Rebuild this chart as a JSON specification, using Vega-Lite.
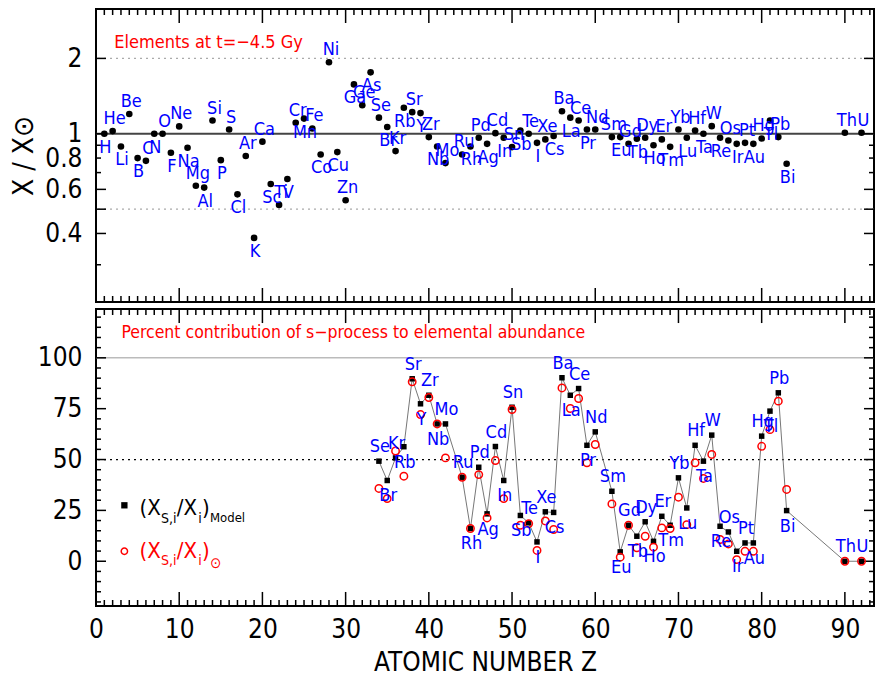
{
 "$schema": "https://vega.github.io/schema/vega-lite/v6.json",
 "padding": {"left": 9, "top": 7, "right": 5, "bottom": 3},
 "spacing": 3,
 "config": {
  "view": {"stroke": "black", "strokeWidth": 2},
  "axis": {"domain": false, "ticks": false, "tickSize": 0, "grid": false,
   "labelFont": "DejaVu Sans Condensed, DejaVu Sans, sans-serif", "labelColor": "black",
   "titleFont": "DejaVu Sans Condensed, DejaVu Sans, sans-serif", "titleFontWeight": "normal", "titleColor": "black",
   "labelFlush": false, "labelOverlap": false},
  "text": {"font": "DejaVu Sans Condensed, DejaVu Sans, sans-serif"}
 },
 "datasets": {
  "xt": [{"t":0},{"t":1},{"t":2},{"t":3},{"t":4},{"t":5},{"t":6},{"t":7},{"t":8},{"t":9},{"t":10},{"t":11},{"t":12},{"t":13},{"t":14},{"t":15},{"t":16},{"t":17},{"t":18},{"t":19},{"t":20},{"t":21},{"t":22},{"t":23},{"t":24},{"t":25},{"t":26},{"t":27},{"t":28},{"t":29},{"t":30},{"t":31},{"t":32},{"t":33},{"t":34},{"t":35},{"t":36},{"t":37},{"t":38},{"t":39},{"t":40},{"t":41},{"t":42},{"t":43},{"t":44},{"t":45},{"t":46},{"t":47},{"t":48},{"t":49},{"t":50},{"t":51},{"t":52},{"t":53},{"t":54},{"t":55},{"t":56},{"t":57},{"t":58},{"t":59},{"t":60},{"t":61},{"t":62},{"t":63},{"t":64},{"t":65},{"t":66},{"t":67},{"t":68},{"t":69},{"t":70},{"t":71},{"t":72},{"t":73},{"t":74},{"t":75},{"t":76},{"t":77},{"t":78},{"t":79},{"t":80},{"t":81},{"t":82},{"t":83},{"t":84},{"t":85},{"t":86},{"t":87},{"t":88},{"t":89},{"t":90},{"t":91},{"t":92},{"t":93}],
  "ytt": [{"t":0.3},{"t":0.4},{"t":0.5},{"t":0.6},{"t":0.7},{"t":0.8},{"t":0.9},{"t":1},{"t":2}],
  "ytb": [{"t":-20},{"t":-15},{"t":-10},{"t":-5},{"t":0},{"t":5},{"t":10},{"t":15},{"t":20},{"t":25},{"t":30},{"t":35},{"t":40},{"t":45},{"t":50},{"t":55},{"t":60},{"t":65},{"t":70},{"t":75},{"t":80},{"t":85},{"t":90},{"t":95},{"t":100},{"t":105},{"t":110},{"t":115},{"t":120}],
  "top": [
   {"Z":1,"el":"H","r":1.0},{"Z":2,"el":"He","r":1.025},{"Z":3,"el":"Li","r":0.89},{"Z":4,"el":"Be","r":1.2},
   {"Z":5,"el":"B","r":0.8},{"Z":6,"el":"C","r":0.78},{"Z":7,"el":"N","r":1.0},{"Z":8,"el":"O","r":1.0},
   {"Z":9,"el":"F","r":0.84},{"Z":10,"el":"Ne","r":1.07},{"Z":11,"el":"Na","r":0.88},{"Z":12,"el":"Mg","r":0.62},
   {"Z":13,"el":"Al","r":0.61},{"Z":14,"el":"Si","r":1.13},{"Z":15,"el":"P","r":0.785},{"Z":16,"el":"S","r":1.04},
   {"Z":17,"el":"Cl","r":0.573},{"Z":18,"el":"Ar","r":0.815},{"Z":19,"el":"K","r":0.384},{"Z":20,"el":"Ca","r":0.93},
   {"Z":21,"el":"Sc","r":0.63},{"Z":22,"el":"Ti","r":0.52},{"Z":23,"el":"V","r":0.66},{"Z":24,"el":"Cr","r":1.107},
   {"Z":25,"el":"Mn","r":1.15},{"Z":26,"el":"Fe","r":1.05},{"Z":27,"el":"Co","r":0.827},{"Z":28,"el":"Ni","r":1.93},
   {"Z":29,"el":"Cu","r":0.845},{"Z":30,"el":"Zn","r":0.543},{"Z":31,"el":"Ga","r":1.575},{"Z":32,"el":"Ge","r":1.3},
   {"Z":33,"el":"As","r":1.76},{"Z":34,"el":"Se","r":1.16},{"Z":35,"el":"Br","r":1.064},{"Z":36,"el":"Kr","r":0.853},
   {"Z":37,"el":"Rb","r":1.27},{"Z":38,"el":"Sr","r":1.22},{"Z":39,"el":"Y","r":1.21},{"Z":40,"el":"Zr","r":0.97},
   {"Z":41,"el":"Nb","r":0.89},{"Z":42,"el":"Mo","r":0.764},{"Z":44,"el":"Ru","r":0.827},{"Z":45,"el":"Rh","r":0.89},
   {"Z":46,"el":"Pd","r":0.964},{"Z":47,"el":"Ag","r":0.912},{"Z":48,"el":"Cd","r":1.006},{"Z":49,"el":"In","r":0.964},
   {"Z":50,"el":"Sn","r":0.885},{"Z":51,"el":"Sb","r":1.03},{"Z":52,"el":"Te","r":1.0},{"Z":53,"el":"I","r":0.92},
   {"Z":54,"el":"Xe","r":0.95},{"Z":55,"el":"Cs","r":0.98},{"Z":56,"el":"Ba","r":1.23},{"Z":57,"el":"La","r":1.16},
   {"Z":58,"el":"Ce","r":1.13},{"Z":59,"el":"Pr","r":1.04},{"Z":60,"el":"Nd","r":1.04},{"Z":62,"el":"Sm","r":0.97},
   {"Z":63,"el":"Eu","r":0.97},{"Z":64,"el":"Gd","r":0.912},{"Z":65,"el":"Tb","r":0.955},{"Z":66,"el":"Dy","r":0.964},
   {"Z":67,"el":"Ho","r":0.9},{"Z":68,"el":"Er","r":0.95},{"Z":69,"el":"Tm","r":0.887},{"Z":70,"el":"Yb","r":1.04},
   {"Z":71,"el":"Lu","r":0.964},{"Z":72,"el":"Hf","r":1.03},{"Z":73,"el":"Ta","r":1.0},{"Z":74,"el":"W","r":1.073},
   {"Z":75,"el":"Re","r":0.964},{"Z":76,"el":"Os","r":0.94},{"Z":77,"el":"Ir","r":0.912},{"Z":78,"el":"Pt","r":0.92},
   {"Z":79,"el":"Au","r":0.912},{"Z":80,"el":"Hg","r":0.958},{"Z":81,"el":"Tl","r":1.13},{"Z":82,"el":"Pb","r":0.97},
   {"Z":83,"el":"Bi","r":0.759},{"Z":90,"el":"Th","r":1.01},{"Z":92,"el":"U","r":1.01}
  ],
  "bot": [
   {"Z":34,"el":"Se","model":49.2,"solar":35.8},{"Z":35,"el":"Br","model":39.7,"solar":30.8},
   {"Z":36,"el":"Kr","model":50.8,"solar":54.2},{"Z":37,"el":"Rb","model":56.3,"solar":41.8},
   {"Z":38,"el":"Sr","model":89.7,"solar":88.2},{"Z":39,"el":"Y","model":77.4,"solar":72.1},
   {"Z":40,"el":"Zr","model":81.6,"solar":80.5},{"Z":41,"el":"Nb","model":67.5,"solar":67.5},
   {"Z":42,"el":"Mo","model":67.5,"solar":50.8},{"Z":44,"el":"Ru","model":41.3,"solar":41.3},
   {"Z":45,"el":"Rh","model":16.1,"solar":16.1},{"Z":46,"el":"Pd","model":46.2,"solar":42.6},
   {"Z":47,"el":"Ag","model":23.3,"solar":21.3},{"Z":48,"el":"Cd","model":56.4,"solar":49.5},
   {"Z":49,"el":"In","model":39.7,"solar":30.8},{"Z":50,"el":"Sn","model":75.7,"solar":74.6},
   {"Z":51,"el":"Sb","model":22.5,"solar":17.7},{"Z":52,"el":"Te","model":18.9,"solar":18.5},
   {"Z":53,"el":"I","model":9.5,"solar":5.3},{"Z":54,"el":"Xe","model":24.3,"solar":19.8},
   {"Z":55,"el":"Cs","model":24.0,"solar":15.6},{"Z":56,"el":"Ba","model":90.2,"solar":85.2},
   {"Z":57,"el":"La","model":81.6,"solar":75.1},{"Z":58,"el":"Ce","model":84.9,"solar":80.0},
   {"Z":59,"el":"Pr","model":57.0,"solar":48.4},{"Z":60,"el":"Nd","model":63.6,"solar":57.4},
   {"Z":62,"el":"Sm","model":34.4,"solar":28.2},{"Z":63,"el":"Eu","model":4.6,"solar":2.0},
   {"Z":64,"el":"Gd","model":17.7,"solar":17.7},{"Z":65,"el":"Tb","model":12.3,"solar":6.6},
   {"Z":66,"el":"Dy","model":19.4,"solar":12.3},{"Z":67,"el":"Ho","model":9.8,"solar":6.9},
   {"Z":68,"el":"Er","model":22.1,"solar":16.4},{"Z":69,"el":"Tm","model":17.7,"solar":16.1},
   {"Z":70,"el":"Yb","model":41.0,"solar":31.5},{"Z":71,"el":"Lu","model":26.2,"solar":18.0},
   {"Z":72,"el":"Hf","model":57.0,"solar":48.4},{"Z":73,"el":"Ta","model":49.2,"solar":40.7},
   {"Z":74,"el":"W","model":62.0,"solar":52.5},{"Z":75,"el":"Re","model":17.2,"solar":10.7},
   {"Z":76,"el":"Os","model":14.4,"solar":8.5},{"Z":77,"el":"Ir","model":4.9,"solar":0.8},
   {"Z":78,"el":"Pt","model":9.0,"solar":4.9},{"Z":79,"el":"Au","model":9.0,"solar":4.9},
   {"Z":80,"el":"Hg","model":61.5,"solar":56.5},{"Z":81,"el":"Tl","model":73.8,"solar":64.7},
   {"Z":82,"el":"Pb","model":82.8,"solar":78.7},{"Z":83,"el":"Bi","model":24.9,"solar":35.3},
   {"Z":90,"el":"Th","model":0,"solar":0},{"Z":92,"el":"U","model":0,"solar":0}
  ]
 },
 "vconcat": [
  {
   "width": 778, "height": 293,
   "resolve": {"axis": {"x": "independent", "y": "independent"}},
   "layer": [
    {"data": {"values": [{"v": 2}, {"v": 0.5}]},
     "mark": {"type": "rule", "stroke": "#aaaaaa", "strokeWidth": 1.2, "strokeDash": [2, 4]},
     "encoding": {"y": {"field": "v", "type": "quantitative", "scale": {"type": "log", "domain": [0.213, 3.15], "nice": false}, "axis": null}}},
    {"data": {"values": [{}]},
     "mark": {"type": "rule", "stroke": "#444444", "strokeWidth": 2},
     "encoding": {"y": {"datum": 1, "type": "quantitative", "scale": {"type": "log", "domain": [0.213, 3.15], "nice": false}, "axis": null}}},
    {"data": {"name": "xt"}, "transform": [{"filter": "datum.t % 10 === 0"}],
     "mark": {"type": "rule", "stroke": "black", "strokeWidth": 1.5},
     "encoding": {
      "x": {"field": "t", "type": "quantitative", "scale": {"domain": [0, 93.5], "nice": false, "zero": false}, "axis": null},
      "y": {"datum": 0.213, "type": "quantitative", "scale": {"type": "log", "domain": [0.213, 3.15], "nice": false}, "axis": null},
      "y2": {"datum": 0.2423}}},
    {"data": {"name": "xt"}, "transform": [{"filter": "datum.t % 10 !== 0"}],
     "mark": {"type": "rule", "stroke": "black", "strokeWidth": 1.5},
     "encoding": {
      "x": {"field": "t", "type": "quantitative", "scale": {"domain": [0, 93.5], "nice": false, "zero": false}, "axis": null},
      "y": {"datum": 0.213, "type": "quantitative", "scale": {"type": "log", "domain": [0.213, 3.15], "nice": false}, "axis": null},
      "y2": {"datum": 0.2251}}},
    {"data": {"name": "xt"}, "transform": [{"filter": "datum.t % 10 === 0"}],
     "mark": {"type": "rule", "stroke": "black", "strokeWidth": 1.5},
     "encoding": {
      "x": {"field": "t", "type": "quantitative", "scale": {"domain": [0, 93.5], "nice": false, "zero": false}, "axis": null},
      "y": {"datum": 3.15, "type": "quantitative", "scale": {"type": "log", "domain": [0.213, 3.15], "nice": false}, "axis": null},
      "y2": {"datum": 2.7695}}},
    {"data": {"name": "xt"}, "transform": [{"filter": "datum.t % 10 !== 0"}],
     "mark": {"type": "rule", "stroke": "black", "strokeWidth": 1.5},
     "encoding": {
      "x": {"field": "t", "type": "quantitative", "scale": {"domain": [0, 93.5], "nice": false, "zero": false}, "axis": null},
      "y": {"datum": 3.15, "type": "quantitative", "scale": {"type": "log", "domain": [0.213, 3.15], "nice": false}, "axis": null},
      "y2": {"datum": 2.981}}},
    {"data": {"name": "ytt"}, "transform": [{"filter": "indexof([2,1,0.6,0.5,0.4], datum.t) >= 0"}],
     "mark": {"type": "rule", "stroke": "black", "strokeWidth": 1.5},
     "encoding": {
      "y": {"field": "t", "type": "quantitative", "scale": {"type": "log", "domain": [0.213, 3.15], "nice": false}, "axis": null},
      "x": {"datum": 0, "type": "quantitative", "scale": {"domain": [0, 93.5], "nice": false, "zero": false}, "axis": null},
      "x2": {"datum": 1.2}}},
    {"data": {"name": "ytt"}, "transform": [{"filter": "indexof([2,1,0.6,0.5,0.4], datum.t) < 0"}],
     "mark": {"type": "rule", "stroke": "black", "strokeWidth": 1.5},
     "encoding": {
      "y": {"field": "t", "type": "quantitative", "scale": {"type": "log", "domain": [0.213, 3.15], "nice": false}, "axis": null},
      "x": {"datum": 0, "type": "quantitative", "scale": {"domain": [0, 93.5], "nice": false, "zero": false}, "axis": null},
      "x2": {"datum": 0.6}}},
    {"data": {"name": "ytt"}, "transform": [{"filter": "indexof([2,1,0.6,0.5,0.4], datum.t) >= 0"}],
     "mark": {"type": "rule", "stroke": "black", "strokeWidth": 1.5},
     "encoding": {
      "y": {"field": "t", "type": "quantitative", "scale": {"type": "log", "domain": [0.213, 3.15], "nice": false}, "axis": null},
      "x": {"datum": 93.5, "type": "quantitative", "scale": {"domain": [0, 93.5], "nice": false, "zero": false}, "axis": null},
      "x2": {"datum": 92.3}}},
    {"data": {"name": "ytt"}, "transform": [{"filter": "indexof([2,1,0.6,0.5,0.4], datum.t) < 0"}],
     "mark": {"type": "rule", "stroke": "black", "strokeWidth": 1.5},
     "encoding": {
      "y": {"field": "t", "type": "quantitative", "scale": {"type": "log", "domain": [0.213, 3.15], "nice": false}, "axis": null},
      "x": {"datum": 93.5, "type": "quantitative", "scale": {"domain": [0, 93.5], "nice": false, "zero": false}, "axis": null},
      "x2": {"datum": 92.9}}},
    {"data": {"name": "top"},
     "mark": {"type": "circle", "color": "black", "opacity": 1, "size": 44},
     "encoding": {
      "x": {"field": "Z", "type": "quantitative", "scale": {"domain": [0, 93.5], "nice": false, "zero": false}, "axis": null},
      "y": {"field": "r", "type": "quantitative", "scale": {"type": "log", "domain": [0.213, 3.15], "nice": false},
       "axis": {"orient": "left", "values": [0.3,0.4,0.5,0.6,0.7,0.8,0.9,1,2],
        "labelExpr": "indexof([2,1,0.8,0.6,0.4], datum.value) >= 0 ? toString(datum.value) : ''",
        "labelFontSize": 26, "labelPadding": 14,
        "title": "X / X⊙", "titleFontSize": 28, "titlePadding": 6}}
     }},
    {"data": {"name": "top"},
     "transform": [{"filter": "datum.Z % 2 === 0"}],
     "mark": {"type": "text", "color": "#0000ff", "fontSize": 18, "align": "center", "baseline": "alphabetic", "dy": -7, "dx": 2},
     "encoding": {
      "x": {"field": "Z", "type": "quantitative", "scale": {"domain": [0, 93.5], "nice": false, "zero": false}, "axis": null},
      "y": {"field": "r", "type": "quantitative", "scale": {"type": "log", "domain": [0.213, 3.15], "nice": false}, "axis": null},
      "text": {"field": "el"}
     }},
    {"data": {"name": "top"},
     "transform": [{"filter": "datum.Z % 2 === 1"}],
     "mark": {"type": "text", "color": "#0000ff", "fontSize": 18, "align": "center", "baseline": "top", "dy": 5, "dx": 1},
     "encoding": {
      "x": {"field": "Z", "type": "quantitative", "scale": {"domain": [0, 93.5], "nice": false, "zero": false}, "axis": null},
      "y": {"field": "r", "type": "quantitative", "scale": {"type": "log", "domain": [0.213, 3.15], "nice": false}, "axis": null},
      "text": {"field": "el"}
     }},
    {"data": {"values": [{}]},
     "mark": {"type": "text", "text": "Elements at t=−4.5 Gy", "color": "#ff0000", "fontSize": 18, "align": "left", "baseline": "middle"},
     "encoding": {
      "x": {"datum": 2.2, "type": "quantitative", "scale": {"domain": [0, 93.5], "nice": false, "zero": false}, "axis": null},
      "y": {"datum": 2.3, "type": "quantitative", "scale": {"type": "log", "domain": [0.213, 3.15], "nice": false}, "axis": null}
     }}
   ]
  },
  {
   "width": 778, "height": 297,
   "resolve": {"axis": {"x": "independent", "y": "independent"}},
   "layer": [
    {"data": {"values": [{}]},
     "mark": {"type": "rule", "stroke": "#bbbbbb", "strokeWidth": 1.5},
     "encoding": {"y": {"datum": 100, "type": "quantitative", "scale": {"domain": [-22, 124], "nice": false, "zero": false}, "axis": null}}},
    {"data": {"values": [{}]},
     "mark": {"type": "rule", "stroke": "black", "strokeWidth": 1.2, "strokeDash": [2, 4]},
     "encoding": {"y": {"datum": 50, "type": "quantitative", "scale": {"domain": [-22, 124], "nice": false, "zero": false}, "axis": null}}},
    {"data": {"name": "xt"}, "transform": [{"filter": "datum.t % 10 === 0"}],
     "mark": {"type": "rule", "stroke": "black", "strokeWidth": 1.5},
     "encoding": {
      "x": {"field": "t", "type": "quantitative", "scale": {"domain": [0, 93.5], "nice": false, "zero": false}, "axis": null},
      "y": {"datum": -22, "type": "quantitative", "scale": {"domain": [-22, 124], "nice": false, "zero": false}, "axis": null},
      "y2": {"datum": -15.1}}},
    {"data": {"name": "xt"}, "transform": [{"filter": "datum.t % 10 !== 0"}],
     "mark": {"type": "rule", "stroke": "black", "strokeWidth": 1.5},
     "encoding": {
      "x": {"field": "t", "type": "quantitative", "scale": {"domain": [0, 93.5], "nice": false, "zero": false}, "axis": null},
      "y": {"datum": -22, "type": "quantitative", "scale": {"domain": [-22, 124], "nice": false, "zero": false}, "axis": null},
      "y2": {"datum": -19.05}}},
    {"data": {"name": "xt"}, "transform": [{"filter": "datum.t % 10 === 0"}],
     "mark": {"type": "rule", "stroke": "black", "strokeWidth": 1.5},
     "encoding": {
      "x": {"field": "t", "type": "quantitative", "scale": {"domain": [0, 93.5], "nice": false, "zero": false}, "axis": null},
      "y": {"datum": 124, "type": "quantitative", "scale": {"domain": [-22, 124], "nice": false, "zero": false}, "axis": null},
      "y2": {"datum": 117.1}}},
    {"data": {"name": "xt"}, "transform": [{"filter": "datum.t % 10 !== 0"}],
     "mark": {"type": "rule", "stroke": "black", "strokeWidth": 1.5},
     "encoding": {
      "x": {"field": "t", "type": "quantitative", "scale": {"domain": [0, 93.5], "nice": false, "zero": false}, "axis": null},
      "y": {"datum": 124, "type": "quantitative", "scale": {"domain": [-22, 124], "nice": false, "zero": false}, "axis": null},
      "y2": {"datum": 121.05}}},
    {"data": {"name": "ytb"}, "transform": [{"filter": "datum.t % 25 === 0"}],
     "mark": {"type": "rule", "stroke": "black", "strokeWidth": 1.5},
     "encoding": {
      "y": {"field": "t", "type": "quantitative", "scale": {"domain": [-22, 124], "nice": false, "zero": false}, "axis": null},
      "x": {"datum": 0, "type": "quantitative", "scale": {"domain": [0, 93.5], "nice": false, "zero": false}, "axis": null},
      "x2": {"datum": 1.2}}},
    {"data": {"name": "ytb"}, "transform": [{"filter": "datum.t % 25 !== 0"}],
     "mark": {"type": "rule", "stroke": "black", "strokeWidth": 1.5},
     "encoding": {
      "y": {"field": "t", "type": "quantitative", "scale": {"domain": [-22, 124], "nice": false, "zero": false}, "axis": null},
      "x": {"datum": 0, "type": "quantitative", "scale": {"domain": [0, 93.5], "nice": false, "zero": false}, "axis": null},
      "x2": {"datum": 0.6}}},
    {"data": {"name": "ytb"}, "transform": [{"filter": "datum.t % 25 === 0"}],
     "mark": {"type": "rule", "stroke": "black", "strokeWidth": 1.5},
     "encoding": {
      "y": {"field": "t", "type": "quantitative", "scale": {"domain": [-22, 124], "nice": false, "zero": false}, "axis": null},
      "x": {"datum": 93.5, "type": "quantitative", "scale": {"domain": [0, 93.5], "nice": false, "zero": false}, "axis": null},
      "x2": {"datum": 92.3}}},
    {"data": {"name": "ytb"}, "transform": [{"filter": "datum.t % 25 !== 0"}],
     "mark": {"type": "rule", "stroke": "black", "strokeWidth": 1.5},
     "encoding": {
      "y": {"field": "t", "type": "quantitative", "scale": {"domain": [-22, 124], "nice": false, "zero": false}, "axis": null},
      "x": {"datum": 93.5, "type": "quantitative", "scale": {"domain": [0, 93.5], "nice": false, "zero": false}, "axis": null},
      "x2": {"datum": 92.9}}},
    {"data": {"name": "bot"},
     "mark": {"type": "line", "color": "#777777", "strokeWidth": 1},
     "encoding": {
      "x": {"field": "Z", "type": "quantitative", "scale": {"domain": [0, 93.5], "nice": false, "zero": false},
       "axis": {"orient": "bottom", "values": [0,10,20,30,40,50,60,70,80,90],
        "labelFontSize": 26, "labelPadding": 10,
        "title": "ATOMIC NUMBER Z", "titleFontSize": 26, "titlePadding": 7}},
      "y": {"field": "model", "type": "quantitative", "scale": {"domain": [-22, 124], "nice": false, "zero": false},
       "axis": {"orient": "left", "values": [0,25,50,75,100],
        "labelFontSize": 26, "labelPadding": 14, "title": null}}
     }},
    {"data": {"name": "bot"},
     "mark": {"type": "square", "color": "black", "opacity": 1, "size": 30},
     "encoding": {
      "x": {"field": "Z", "type": "quantitative", "scale": {"domain": [0, 93.5], "nice": false, "zero": false}, "axis": null},
      "y": {"field": "model", "type": "quantitative", "scale": {"domain": [-22, 124], "nice": false, "zero": false}, "axis": null}
     }},
    {"data": {"name": "bot"},
     "mark": {"type": "point", "shape": "circle", "filled": false, "stroke": "#ff0000", "strokeWidth": 1.5, "opacity": 1, "size": 55},
     "encoding": {
      "x": {"field": "Z", "type": "quantitative", "scale": {"domain": [0, 93.5], "nice": false, "zero": false}, "axis": null},
      "y": {"field": "solar", "type": "quantitative", "scale": {"domain": [-22, 124], "nice": false, "zero": false}, "axis": null}
     }},
    {"data": {"name": "bot"},
     "transform": [{"filter": "datum.Z % 2 === 0"}],
     "mark": {"type": "text", "color": "#0000ff", "fontSize": 18, "align": "center", "baseline": "alphabetic", "dy": -9, "dx": 1},
     "encoding": {
      "x": {"field": "Z", "type": "quantitative", "scale": {"domain": [0, 93.5], "nice": false, "zero": false}, "axis": null},
      "y": {"field": "model", "type": "quantitative", "scale": {"domain": [-22, 124], "nice": false, "zero": false}, "axis": null},
      "text": {"field": "el"}
     }},
    {"data": {"name": "bot"},
     "transform": [{"filter": "datum.Z % 2 === 1"}],
     "mark": {"type": "text", "color": "#0000ff", "fontSize": 18, "align": "center", "baseline": "top", "dy": 7, "dx": 1},
     "encoding": {
      "x": {"field": "Z", "type": "quantitative", "scale": {"domain": [0, 93.5], "nice": false, "zero": false}, "axis": null},
      "y": {"field": "model", "type": "quantitative", "scale": {"domain": [-22, 124], "nice": false, "zero": false}, "axis": null},
      "text": {"field": "el"}
     }},
    {"data": {"values": [{}]},
     "mark": {"type": "text", "text": "Percent contribution of s−process to elemental abundance", "color": "#ff0000", "fontSize": 17.5, "align": "left", "baseline": "middle"},
     "encoding": {
      "x": {"datum": 3.05, "type": "quantitative", "scale": {"domain": [0, 93.5], "nice": false, "zero": false}, "axis": null},
      "y": {"datum": 112, "type": "quantitative", "scale": {"domain": [-22, 124], "nice": false, "zero": false}, "axis": null}
     }},
    {"data": {"values": [{}]},
     "mark": {"type": "square", "color": "black", "opacity": 1, "size": 40},
     "encoding": {
      "x": {"datum": 3.41, "type": "quantitative", "scale": {"domain": [0, 93.5], "nice": false, "zero": false}, "axis": null},
      "y": {"datum": 27.5, "type": "quantitative", "scale": {"domain": [-22, 124], "nice": false, "zero": false}, "axis": null}
     }},
    {"data": {"values": [{}]},
     "mark": {"type": "point", "shape": "circle", "filled": false, "stroke": "#ff0000", "strokeWidth": 1.5, "opacity": 1, "size": 40},
     "encoding": {
      "x": {"datum": 3.41, "type": "quantitative", "scale": {"domain": [0, 93.5], "nice": false, "zero": false}, "axis": null},
      "y": {"datum": 4.9, "type": "quantitative", "scale": {"domain": [-22, 124], "nice": false, "zero": false}, "axis": null}
     }},
    {"data": {"values": [{}]},
     "mark": {"type": "text", "text": "(X", "color": "black", "fontSize": 22, "align": "left", "baseline": "alphabetic"},
     "encoding": {
      "x": {"datum": 5.22, "type": "quantitative", "scale": {"domain": [0, 93.5], "nice": false, "zero": false}, "axis": null},
      "y": {"datum": 22.5, "type": "quantitative", "scale": {"domain": [-22, 124], "nice": false, "zero": false}, "axis": null}
     }},
    {"data": {"values": [{}]},
     "mark": {"type": "text", "text": "S,i", "color": "black", "fontSize": 14, "align": "left", "baseline": "alphabetic"},
     "encoding": {
      "x": {"datum": 7.8, "type": "quantitative", "scale": {"domain": [0, 93.5], "nice": false, "zero": false}, "axis": null},
      "y": {"datum": 19, "type": "quantitative", "scale": {"domain": [-22, 124], "nice": false, "zero": false}, "axis": null}
     }},
    {"data": {"values": [{}]},
     "mark": {"type": "text", "text": "/X", "color": "black", "fontSize": 22, "align": "left", "baseline": "alphabetic"},
     "encoding": {
      "x": {"datum": 9.7, "type": "quantitative", "scale": {"domain": [0, 93.5], "nice": false, "zero": false}, "axis": null},
      "y": {"datum": 22.5, "type": "quantitative", "scale": {"domain": [-22, 124], "nice": false, "zero": false}, "axis": null}
     }},
    {"data": {"values": [{}]},
     "mark": {"type": "text", "text": "i", "color": "black", "fontSize": 14, "align": "left", "baseline": "alphabetic"},
     "encoding": {
      "x": {"datum": 12.3, "type": "quantitative", "scale": {"domain": [0, 93.5], "nice": false, "zero": false}, "axis": null},
      "y": {"datum": 19, "type": "quantitative", "scale": {"domain": [-22, 124], "nice": false, "zero": false}, "axis": null}
     }},
    {"data": {"values": [{}]},
     "mark": {"type": "text", "text": ")", "color": "black", "fontSize": 22, "align": "left", "baseline": "alphabetic"},
     "encoding": {
      "x": {"datum": 12.75, "type": "quantitative", "scale": {"domain": [0, 93.5], "nice": false, "zero": false}, "axis": null},
      "y": {"datum": 22.5, "type": "quantitative", "scale": {"domain": [-22, 124], "nice": false, "zero": false}, "axis": null}
     }},
    {"data": {"values": [{}]},
     "mark": {"type": "text", "text": "Model", "color": "black", "fontSize": 13, "align": "left", "baseline": "alphabetic"},
     "encoding": {
      "x": {"datum": 13.7, "type": "quantitative", "scale": {"domain": [0, 93.5], "nice": false, "zero": false}, "axis": null},
      "y": {"datum": 19.5, "type": "quantitative", "scale": {"domain": [-22, 124], "nice": false, "zero": false}, "axis": null}
     }},
    {"data": {"values": [{}]},
     "mark": {"type": "text", "text": "(X", "color": "#ff0000", "fontSize": 22, "align": "left", "baseline": "alphabetic"},
     "encoding": {
      "x": {"datum": 5.22, "type": "quantitative", "scale": {"domain": [0, 93.5], "nice": false, "zero": false}, "axis": null},
      "y": {"datum": 1.8, "type": "quantitative", "scale": {"domain": [-22, 124], "nice": false, "zero": false}, "axis": null}
     }},
    {"data": {"values": [{}]},
     "mark": {"type": "text", "text": "S,i", "color": "#ff0000", "fontSize": 14, "align": "left", "baseline": "alphabetic"},
     "encoding": {
      "x": {"datum": 7.8, "type": "quantitative", "scale": {"domain": [0, 93.5], "nice": false, "zero": false}, "axis": null},
      "y": {"datum": -1.8, "type": "quantitative", "scale": {"domain": [-22, 124], "nice": false, "zero": false}, "axis": null}
     }},
    {"data": {"values": [{}]},
     "mark": {"type": "text", "text": "/X", "color": "#ff0000", "fontSize": 22, "align": "left", "baseline": "alphabetic"},
     "encoding": {
      "x": {"datum": 9.7, "type": "quantitative", "scale": {"domain": [0, 93.5], "nice": false, "zero": false}, "axis": null},
      "y": {"datum": 1.8, "type": "quantitative", "scale": {"domain": [-22, 124], "nice": false, "zero": false}, "axis": null}
     }},
    {"data": {"values": [{}]},
     "mark": {"type": "text", "text": "i", "color": "#ff0000", "fontSize": 14, "align": "left", "baseline": "alphabetic"},
     "encoding": {
      "x": {"datum": 12.3, "type": "quantitative", "scale": {"domain": [0, 93.5], "nice": false, "zero": false}, "axis": null},
      "y": {"datum": -1.8, "type": "quantitative", "scale": {"domain": [-22, 124], "nice": false, "zero": false}, "axis": null}
     }},
    {"data": {"values": [{}]},
     "mark": {"type": "text", "text": ")", "color": "#ff0000", "fontSize": 22, "align": "left", "baseline": "alphabetic"},
     "encoding": {
      "x": {"datum": 12.75, "type": "quantitative", "scale": {"domain": [0, 93.5], "nice": false, "zero": false}, "axis": null},
      "y": {"datum": 1.8, "type": "quantitative", "scale": {"domain": [-22, 124], "nice": false, "zero": false}, "axis": null}
     }},
    {"data": {"values": [{}]},
     "mark": {"type": "text", "text": "⊙", "color": "#ff0000", "fontSize": 15, "align": "left", "baseline": "alphabetic"},
     "encoding": {
      "x": {"datum": 13.7, "type": "quantitative", "scale": {"domain": [0, 93.5], "nice": false, "zero": false}, "axis": null},
      "y": {"datum": -3.5, "type": "quantitative", "scale": {"domain": [-22, 124], "nice": false, "zero": false}, "axis": null}
     }}
   ]
  }
 ]
}
